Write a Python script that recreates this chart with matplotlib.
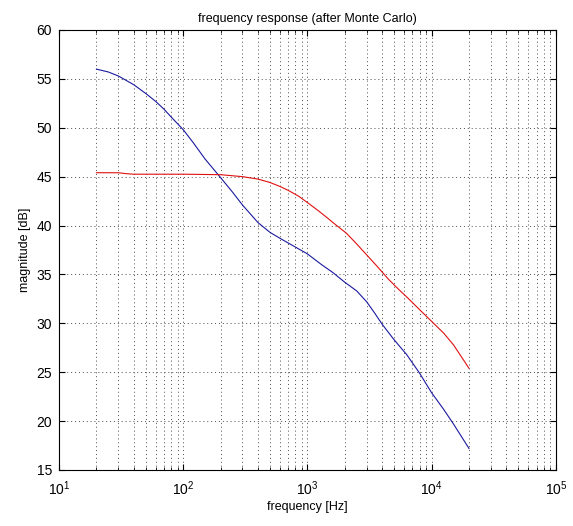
import numpy as np
import matplotlib.pyplot as plt

plt.rcParams['font.family'] = ['Liberation Sans', 'DejaVu Sans']

# frequency points [Hz] and magnitudes [dB]
freq_blue = [20, 25, 30, 40, 50, 60, 70, 80, 100, 120, 150, 200, 250, 300, 400,
             500, 600, 800, 1000, 1300, 1600, 2000, 2500, 3000, 3500, 4000, 5000,
             6300, 8000, 10000, 12500, 15000, 20000]
mag_blue = [56.0, 55.7, 55.3, 54.4, 53.5, 52.7, 51.9, 51.1, 49.8, 48.5, 46.8, 44.9,
            43.4, 42.1, 40.3, 39.3, 38.7, 37.8, 37.1, 36.0, 35.2, 34.2, 33.3, 32.2,
            31.0, 29.9, 28.3, 26.8, 24.9, 22.9, 21.2, 19.7, 17.2]

freq_red = [20, 30, 35, 40, 100, 200, 300, 400, 500, 600, 700, 850, 1000, 1200,
            1425, 1700, 2066, 2500, 3000, 3600, 4500, 5500, 6300, 8000, 10000,
            12500, 15000, 20000]
mag_red = [45.4, 45.4, 45.3, 45.25, 45.25, 45.2, 45.0, 44.75, 44.4, 44.0, 43.6, 43.0,
           42.35, 41.6, 40.85, 40.05, 39.2, 38.1, 37.0, 35.9, 34.5, 33.4, 32.7, 31.4,
           30.2, 29.0, 27.8, 25.4]

fig = plt.figure(figsize=(5.73, 5.26), dpi=100)
ax = fig.add_axes([0.103, 0.1065, 0.867, 0.8365])

ax.semilogx(freq_blue, mag_blue, color='#1a1aa0', lw=0.8)
ax.semilogx(freq_red, mag_red, color='#e01010', lw=0.8)

ax.set_xlim(10, 1e5)
ax.set_ylim(15, 60)
ax.set_yticks(np.arange(15, 61, 5))
ax.grid(True, which='major', linestyle=(0, (1, 3)), color='0.3', lw=0.7)
ax.grid(True, which='minor', axis='x', linestyle=(0, (1, 3)), color='0.3', lw=0.7)
ax.tick_params(which='both', direction='in', top=True, right=True, labelsize=10)
ax.tick_params(which='major', length=4)
ax.tick_params(which='minor', length=2)
ax.tick_params(axis='x', which='major', pad=7)
ax.tick_params(axis='y', which='major', pad=5)
for s in ax.spines.values():
    s.set_linewidth(0.8)

ax.set_title('frequency response (after Monte Carlo)', fontsize=9)
ax.set_xlabel('frequency [Hz]', fontsize=9, labelpad=2)
ax.set_ylabel('magnitude [dB]', fontsize=9)

fig.savefig('out.png', dpi=100)
